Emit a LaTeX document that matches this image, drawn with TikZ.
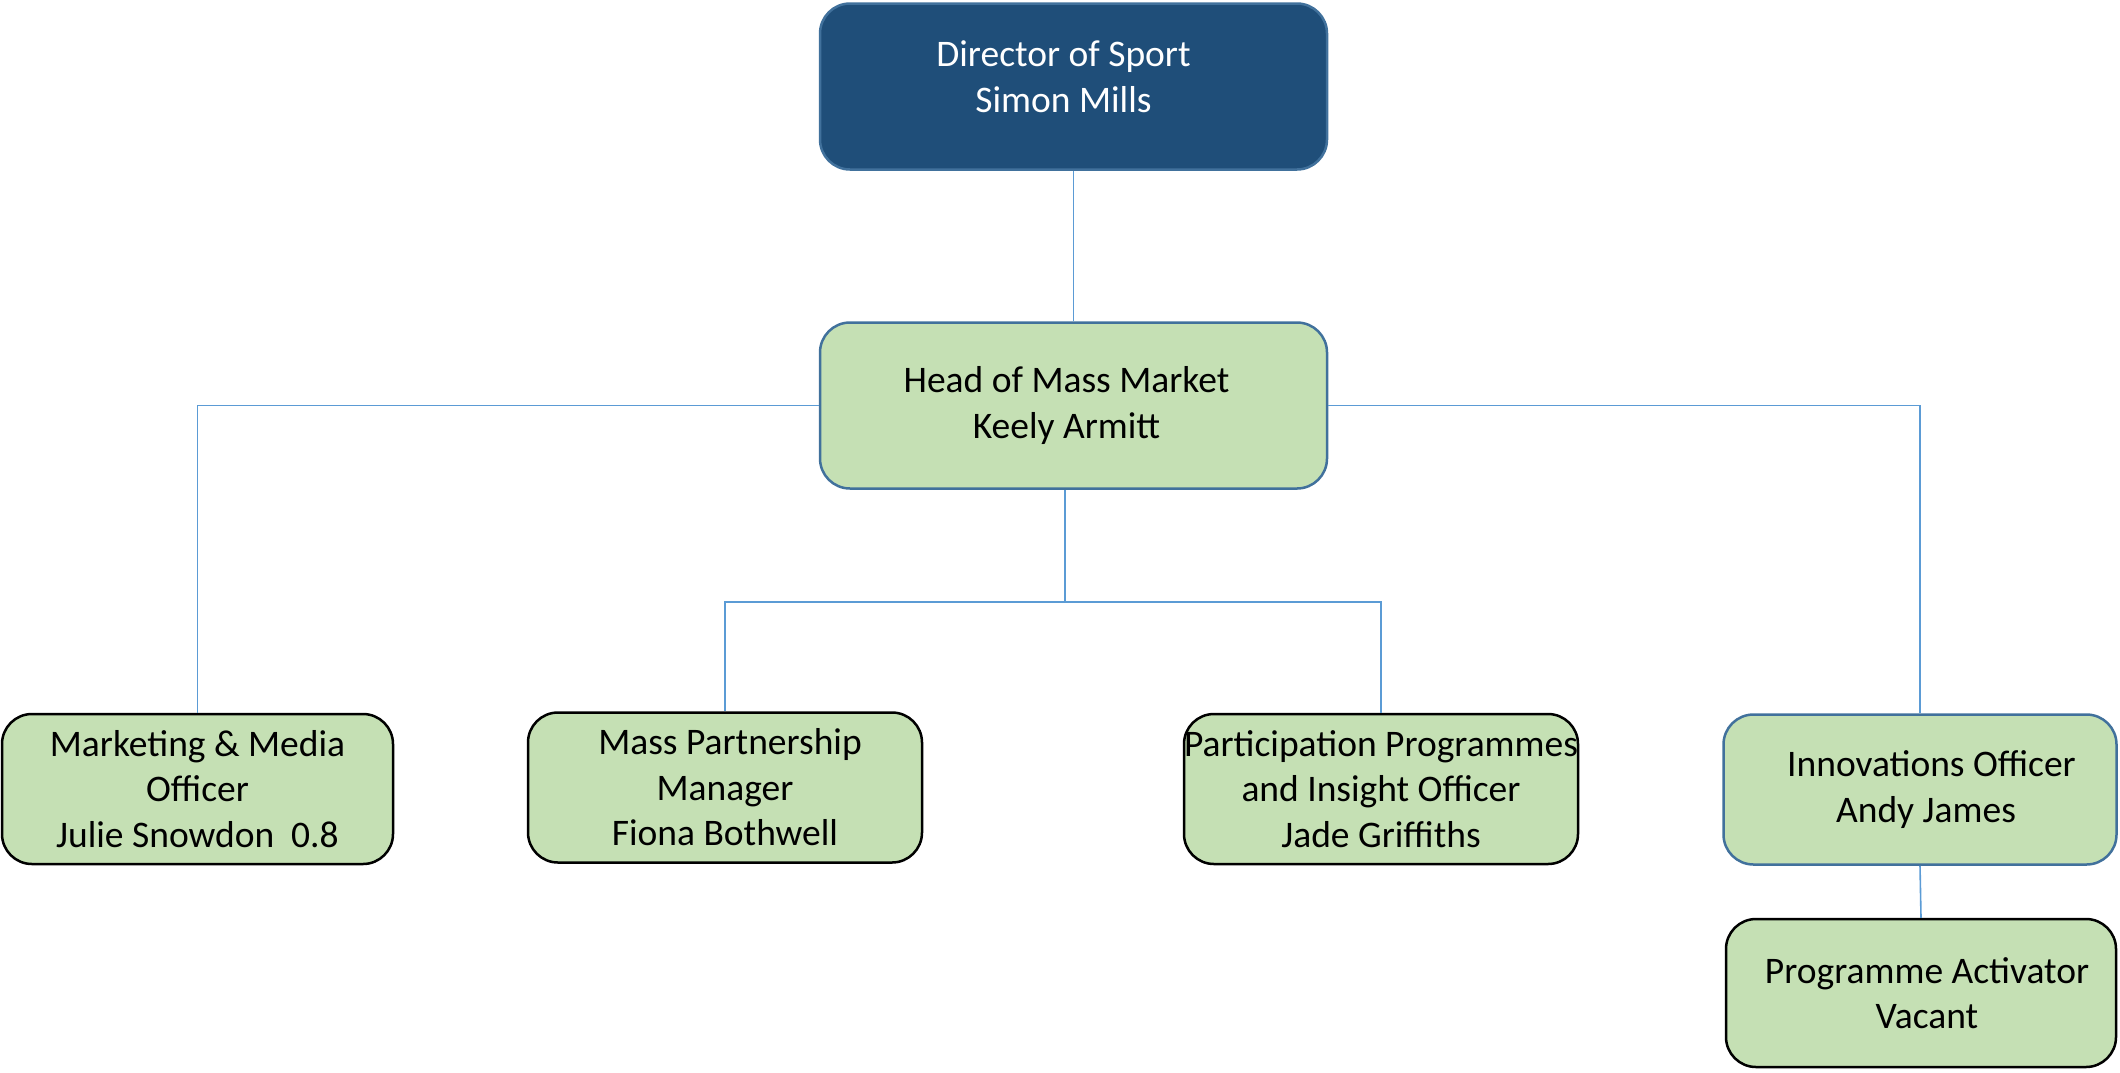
\documentclass[tikz,border=0pt]{standalone}
\usepackage{fontspec}
\setmainfont{Carlito}
\usetikzlibrary{positioning}
\definecolor{navy}{HTML}{1F4E79}
\definecolor{frame}{HTML}{41719C}
\definecolor{leaf}{HTML}{C5E0B4}
\definecolor{wire}{HTML}{5B9BD5}
\tikzset{
  post/.style={draw=black, line width=2.5pt, fill=leaf, rounded corners=30pt,
    align=center, inner sep=0pt, font=\fontsize{37.5}{45.5}\selectfont},
  bluepost/.style={post, draw=frame},
  link/.style={draw=wire, line width=1.6pt}
}
\begin{document}
\begin{tikzpicture}[x=1pt,y=-1pt]
\useasboundingbox (0,0) rectangle (2120,1072);
\node[bluepost, fill=navy, text=white, minimum width=507pt, minimum height=166pt] (dir) at (1073.5,86.5)
  {\hspace*{-20pt}\raisebox{0pt}[0pt][0pt]{\begin{tabular}{@{}c@{}}Director of Sport\\Simon Mills\end{tabular}}};
\node[bluepost, minimum width=507pt, minimum height=166pt] (head) at (1073.5,405.5)
  {\hspace*{-14pt}Head of Mass Market\\\hspace*{-14pt}Keely Armitt};
\node[post, minimum width=391pt, minimum height=150pt] (mkt) at (197.5,789) {Marketing \& Media\\Officer\\Julie Snowdon\ \ 0.8};
\node[post, minimum width=394pt, minimum height=150pt] (mpm) at (725,787.5) {\hspace*{10pt}Mass Partnership\\Manager\\Fiona Bothwell};
\node[post, minimum width=394pt, minimum height=150pt] (ppi) at (1381,789) {Participation Programmes\\and Insight Officer\\Jade Griffiths};
\node[bluepost, minimum width=393pt, minimum height=150pt] (inn) at (1920,789.5) {\hspace*{23pt}Innovations Officer\\\hspace*{12pt}Andy James};
\node[post, minimum width=390pt, minimum height=148pt] (pa) at (1921,993) {\hspace*{12pt}Programme Activator\\\hspace*{12pt}Vacant};
\coordinate (hub) at (1065,602);
\draw[link] (dir) -- (head);
\draw[link] (head.west) -| (mkt.north);
\draw[link] (head.east) -| (inn.north);
\draw[link] (head.south -| hub) -- (hub) -| (mpm.north);
\draw[link] (hub) -| (ppi.north);
\draw[link] (inn.south) -- (pa.north);
\end{tikzpicture}
\end{document}
